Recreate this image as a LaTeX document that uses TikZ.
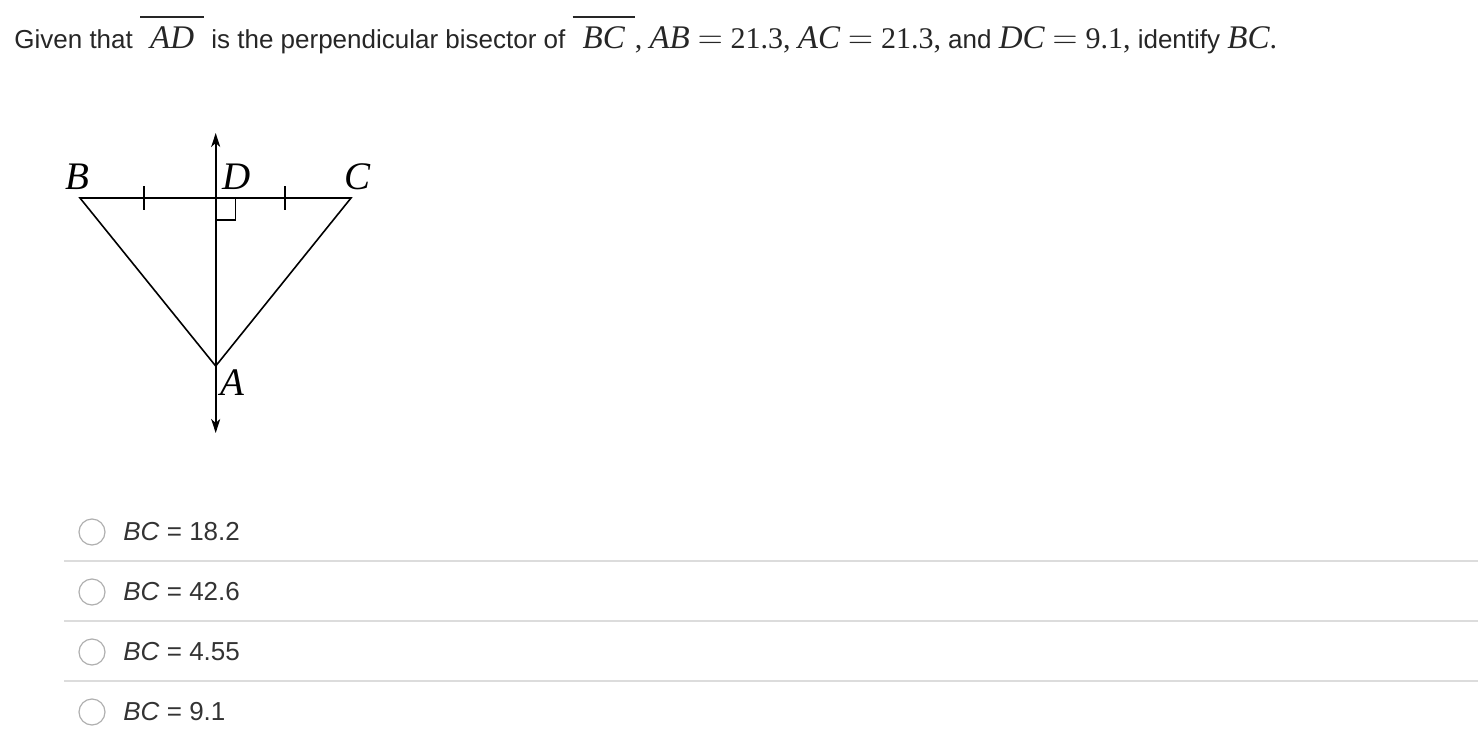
\documentclass[tikz,border=0pt]{standalone}
\usepackage{fontspec}
\setmainfont{Liberation Sans}
\newfontfamily\tms{Liberation Serif}
\usetikzlibrary{arrows.meta}
\definecolor{txtgray}{HTML}{262626}
\definecolor{optgray}{HTML}{333333}
\definecolor{rulegray}{HTML}{DCDCDC}
\definecolor{radiogray}{HTML}{B0B0B0}
\newsavebox\segbox
\newcommand\segbar[1]{\sbox\segbox{\kern5pt#1\kern5pt}\rlap{\raisebox{15pt}{\rule{\wd\segbox}{0.9pt}}}\usebox\segbox}
\newcommand\mi[1]{{\tms\fontsize{16.5}{18}\selectfont\itshape #1}}
\newcommand\mr[1]{{\tms\fontsize{15}{18}\selectfont #1}}
\newcommand\eqs{\hspace{4pt}{\fontsize{16.5}{18}\selectfont$=$}\hspace{4pt}}
\tikzset{
  fig/.style={line width=0.8pt, black},
  figlabel/.style={font=\tms\itshape\fontsize{19.5}{20}\selectfont, inner sep=0pt},
  optline/.style={rulegray, line width=1pt},
  radio/.style={circle, draw=radiogray, line width=0.6pt, fill=white, minimum size=13pt, inner sep=0pt},
  opttext/.style={anchor=base west, inner sep=0pt, text=optgray, font=\fontsize{13}{15}\selectfont},
  bothtips/.style={{Stealth[length=7pt,width=4.5pt,inset=2pt]}-{Stealth[length=7pt,width=4.5pt,inset=2pt]}}
}
\begin{document}
\begin{tikzpicture}[x=0.5pt,y=0.5pt,yscale=-1,xscale=1]
\useasboundingbox (0,0) rectangle (1478,744);

% Text Node: question
\node (title) [anchor=base west, inner sep=0pt, text=txtgray, font=\fontsize{13}{15}\selectfont] at (14,48)
  {Given that \segbar{\mi{AD}} is the perpendicular bisector of \segbar{\mi{BC}}\mr{,} \mi{AB}\eqs\mr{21.3,} \mi{AC}\eqs\mr{21.3,} and \mi{DC}\eqs\mr{9.1,} identify \mi{BC}\mr{.}};

%Points of the triangle
\coordinate (B) at (80,198);
\coordinate (C) at (351,198);
\coordinate (D) at (215.7,198);
\coordinate (A) at (215.7,366);
\coordinate (top) at (215.7,133);
\coordinate (bot) at (215.7,433);
\coordinate (tickL) at (144,198);
\coordinate (tickR) at (285,198);

%Shape: Triangle
\draw [fig] (B) -- (C) -- (A) -- cycle ;
%Line: bisector with arrows
\draw [fig, bothtips] (top) -- (bot) ;
%Tick marks
\draw [fig] (tickL) ++(0,-12) -- ++(0,24) ;
\draw [fig] (tickR) ++(0,-12) -- ++(0,24) ;
%Right angle mark
\draw [fig, line width=0.7pt] (D) ++(0,22) -- ++(20,0) -- ++(0,-22) ;

% Text Node
\node (lblB) [figlabel] at (77,177) {B};
% Text Node
\node (lblD) [figlabel] at (237,177) {D};
% Text Node
\node (lblC) [figlabel] at (358,177) {C};
% Text Node
\node (lblA) [figlabel] at (232,383) {A};

%Answer rows
\node (r1) [radio] at (92,532) {};
\node (o1) [opttext] at (123,540) {\textit{BC} = 18.2};
\draw [optline] (64,561) -- (1478,561) ;
\node (r2) [radio] at (92,592) {};
\node (o2) [opttext] at (123,600) {\textit{BC} = 42.6};
\draw [optline] (64,621) -- (1478,621) ;
\node (r3) [radio] at (92,652) {};
\node (o3) [opttext] at (123,660) {\textit{BC} = 4.55};
\draw [optline] (64,681) -- (1478,681) ;
\node (r4) [radio] at (92,712) {};
\node (o4) [opttext] at (123,720) {\textit{BC} = 9.1};

\end{tikzpicture}
\end{document}
